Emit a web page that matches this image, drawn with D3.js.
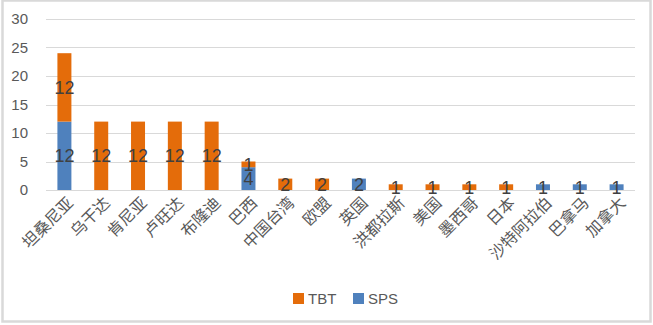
<!DOCTYPE html>
<html><head><meta charset="utf-8">
<script src="https://cdn.jsdelivr.net/npm/d3@7"></script>
<style>body{margin:0;background:#fff}svg{display:block}</style>
</head><body>
<script>
const categories = ["坦桑尼亚","乌干达","肯尼亚","卢旺达","布隆迪","巴西","中国台湾","欧盟","英国","洪都拉斯","美国","墨西哥","日本","沙特阿拉伯","巴拿马","加拿大"];
const tbt = [12,12,12,12,12,1,2,2,0,1,1,1,1,0,0,0];
const sps = [12,0,0,0,0,4,0,0,2,0,0,0,0,1,1,1];
const yTicks = [0,5,10,15,20,25,30];
const seriesNames = ["TBT","SPS"];
const colors = {TBT:"#E46C0A", SPS:"#4F81BD"};

const W = 653, H = 325;
const svg = d3.select("body").append("svg").attr("width", W).attr("height", H);
svg.append("rect").attr("x",2.5).attr("y",0.5).attr("width",648).attr("height",321)
  .attr("fill","#fff").attr("stroke","#D9D9D9").attr("stroke-width",2.5);

const x = d3.scaleBand().domain(categories).range([46,635]).paddingInner(0.62).paddingOuter(0.31);
const y = d3.scaleLinear().domain([0,30]).range([190,19]);

// gridlines
svg.append("g").selectAll("line").data(yTicks).join("line")
  .attr("x1",46).attr("x2",635)
  .attr("y1",d=>Math.round(y(d))+0.5).attr("y2",d=>Math.round(y(d))+0.5)
  .attr("stroke","#D9D9D9").attr("stroke-width",1);

// y labels
svg.append("g").selectAll("text").data(yTicks).join("text")
  .attr("x",28).attr("y",d=>y(d)).attr("dy","0.36em")
  .attr("text-anchor","end").attr("font-family","Liberation Sans, Arial, sans-serif")
  .attr("font-size",15).attr("fill","#595959").text(d=>d);

// stacked data
const rows = categories.map((c,i)=>({cat:c, SPS:sps[i], TBT:tbt[i]}));
const stack = d3.stack().keys(["SPS","TBT"])(rows);
const g = svg.append("g");
stack.forEach(layer=>{
  const key = layer.key;
  layer.forEach(d=>{
    if (d[1]-d[0] <= 0) return;
    g.append("rect").attr("x",x(d.data.cat)).attr("width",x.bandwidth())
      .attr("y",y(d[1])).attr("height",y(d[0])-y(d[1])).attr("fill",colors[key]);
  });
});
stack.forEach(layer=>{
  layer.forEach(d=>{
    const v = d[1]-d[0];
    if (v <= 0) return;
    g.append("text").attr("x",x(d.data.cat)+x.bandwidth()/2).attr("y",y((d[0]+d[1])/2))
      .attr("dy","0.36em").attr("text-anchor","middle")
      .attr("font-family","Liberation Sans, Arial, sans-serif").attr("font-size",18)
      .attr("fill","#404040").text(v);
  });
});

// x labels
svg.append("g").selectAll("text").data(categories).join("text")
  .attr("transform",d=>`translate(${x(d)+x.bandwidth()/2+6},${200}) rotate(-45)`)
  .attr("text-anchor","end").attr("dy","0.35em")
  .attr("font-family","Noto Sans CJK SC, sans-serif").attr("font-size",16)
  .attr("fill","#595959").text(d=>d);

// legend
const legX = [293,353];
seriesNames.forEach((s,i)=>{
  svg.append("rect").attr("x",legX[i]).attr("y",293).attr("width",11).attr("height",11).attr("fill",colors[s]);
  svg.append("text").attr("x",legX[i]+15).attr("y",298.5).attr("dy","0.36em")
    .attr("font-family","Liberation Sans, Arial, sans-serif").attr("font-size",15)
    .attr("fill","#595959").text(s);
});
</script>
</body></html>
